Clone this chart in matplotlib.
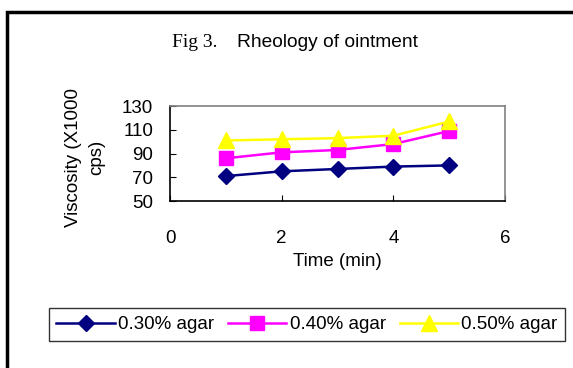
import matplotlib.pyplot as plt
from matplotlib.patches import Rectangle

time_min = [1, 2, 3, 4, 5]
agar_030 = [71, 75, 77, 79, 80]
agar_040 = [86, 91, 93, 98, 109]
agar_050 = [101, 102, 103, 105, 117]
labels = ["0.30% agar", "0.40% agar", "0.50% agar"]

plt.rcParams['font.family'] = ['Liberation Sans', 'DejaVu Sans']

fig = plt.figure(figsize=(5.73, 3.68), dpi=100)
ax = fig.add_axes([0.2967, 0.4538, 0.585, 0.258])

ax.plot(time_min, agar_030, color='#000080', marker='D', markersize=8, lw=1.8, label=labels[0])
ax.plot(time_min, agar_040, color='#ff00ff', marker='s', markersize=10.5, lw=1.8, label=labels[1])
ax.plot(time_min, agar_050, color='#ffff00', marker='^', markersize=11, lw=1.8, label=labels[2])

ax.set_xlim(0, 6)
ax.set_ylim(50, 130)
ax.set_xticks([0, 2, 4, 6])
ax.set_yticks([50, 70, 90, 110, 130])
ax.tick_params(axis='x', direction='in', length=4, pad=21, labelsize=13.5)
ax.tick_params(axis='y', direction='in', length=4, pad=12, labelsize=13.5)
for s in ['top', 'right']:
    ax.spines[s].set_color('#808080')
    ax.spines[s].set_linewidth(1.2)
for s in ['left', 'bottom']:
    ax.spines[s].set_color('black')
    ax.spines[s].set_linewidth(1.2)

ax.set_xlabel("Time (min)", fontsize=13.5, labelpad=4)
ax.set_ylabel("Viscosity (X1000\ncps)", fontsize=13.5, linespacing=1.45)
ax.yaxis.set_label_coords(0.183, 0.571, transform=fig.transFigure)

fig.text(172 / 573, 0.872, "Fig 3.", family='Liberation Serif', fontsize=14, va='baseline')
fig.text(237 / 573, 0.872, "Rheology of ointment", fontsize=13.8, va='baseline')

fig.legend(loc='center', ncol=3, bbox_to_anchor=(0.0855, 0.0462, 0.9005, 0.144),
           mode='expand', fontsize=13.5, frameon=True, fancybox=False,
           edgecolor='black', handlelength=3.1, handletextpad=0.17,
           columnspacing=1.05, borderaxespad=0)

fig.patches.append(Rectangle((0.012, -0.05), 1.2, 1.017, transform=fig.transFigure,
                             fill=False, edgecolor='black', lw=2.5))

fig.savefig("out.png", dpi=100)
